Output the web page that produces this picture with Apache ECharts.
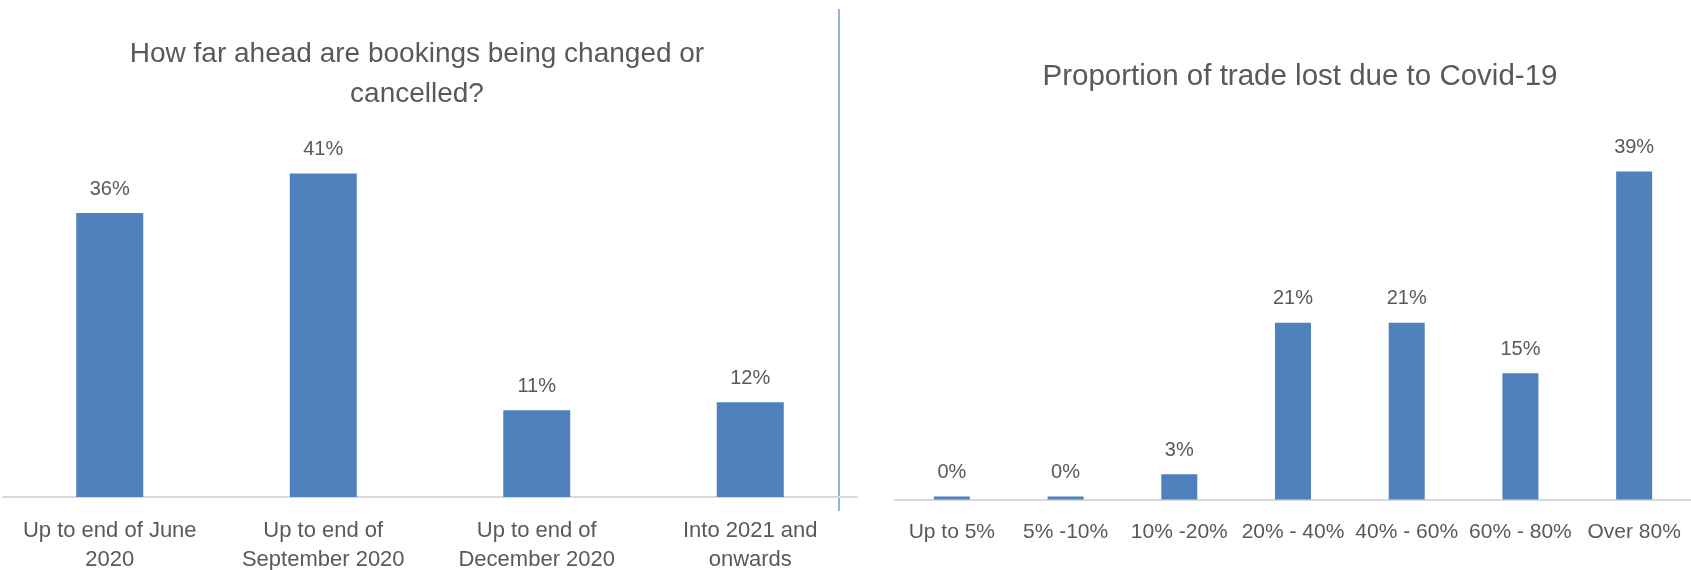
<!DOCTYPE html>
<html>
<head>
<meta charset="utf-8">
<title>Bookings and trade lost</title>
<script src="https://cdn.jsdelivr.net/npm/echarts@6/dist/echarts.min.js"></script>
<style>
  html, body { margin: 0; padding: 0; background: #ffffff; }
  #chart { width: 1691px; height: 570px; }
</style>
</head>
<body>
<div id="chart"></div>
<script>
// Left panel: how far ahead bookings are being changed or cancelled (% of respondents)
const bookingCategories = [
  'Up to end of June\n2020',
  'Up to end of\nSeptember 2020',
  'Up to end of\nDecember 2020',
  'Into 2021 and\nonwards'
];
const bookingShares = [36, 41, 11, 12];

// Right panel: proportion of trade lost due to Covid-19 (% of respondents)
const tradeLossBands = ['Up to 5%', '5% -10%', '10% -20%', '20% - 40%', '40% - 60%', '60% - 80%', 'Over 80%'];
const tradeLossShares = [0, 0, 3, 21, 21, 15, 39];

const leftTitle = 'How far ahead are bookings being changed or\ncancelled?';
const rightTitle = 'Proportion of trade lost due to Covid-19';

const FONT = '"Liberation Sans", Arial, sans-serif';
const TEXT = '#595959';
const BAR = '#4F81BD';
const AXIS = '#D9D9D9';

const chart = echarts.init(document.getElementById('chart'), null, { renderer: 'canvas' });

function categoryAxis(gridIndex, data, margin, size) {
  return {
    type: 'category',
    gridIndex: gridIndex,
    data: data,
    axisLine: { show: true, lineStyle: { color: AXIS, width: 2 } },
    axisTick: { show: false },
    axisLabel: {
      interval: 0,
      margin: margin,
      color: TEXT,
      fontFamily: FONT,
      fontSize: size,
      lineHeight: 29
    }
  };
}

function valueAxis(gridIndex) {
  return {
    type: 'value',
    gridIndex: gridIndex,
    min: 0,
    max: 45,
    show: false,
    splitLine: { show: false }
  };
}

function barSeries(axisIndex, data, width) {
  return {
    type: 'bar',
    xAxisIndex: axisIndex,
    yAxisIndex: axisIndex,
    data: data,
    barWidth: width,
    barMinHeight: 3,
    itemStyle: { color: BAR },
    label: {
      show: true,
      position: 'top',
      distance: 14,
      formatter: '{c}%',
      color: TEXT,
      fontFamily: FONT,
      fontSize: 20
    },
    emphasis: { disabled: true },
    animation: false
  };
}

chart.setOption({
  animation: false,
  backgroundColor: '#ffffff',
  grid: [
    { left: 3, right: 834, top: 142, bottom: 73, outerBoundsMode: 'none', containLabel: false },
    { left: 895, right: 0, top: 121, bottom: 70.5, outerBoundsMode: 'none', containLabel: false }
  ],
  xAxis: [
    categoryAxis(0, bookingCategories, 19, 22),
    categoryAxis(1, tradeLossBands, 18, 21)
  ],
  yAxis: [valueAxis(0), valueAxis(1)],
  series: [
    barSeries(0, bookingShares, 67),
    barSeries(1, tradeLossShares, 36)
  ],
  graphic: [
    {
      type: 'text',
      x: 417,
      y: 74,
      style: {
        text: leftTitle,
        fill: TEXT,
        font: '28px ' + FONT,
        textAlign: 'center',
        textVerticalAlign: 'middle',
        lineHeight: 40
      }
    },
    {
      type: 'text',
      x: 1300,
      y: 77,
      style: {
        text: rightTitle,
        fill: TEXT,
        font: '29.5px ' + FONT,
        textAlign: 'center',
        textVerticalAlign: 'middle'
      }
    },
    {
      type: 'line',
      shape: { x1: 839, y1: 9, x2: 839, y2: 511 },
      style: { stroke: '#6F94D8', lineWidth: 1.5 }
    }
  ]
});
</script>
</body>
</html>
